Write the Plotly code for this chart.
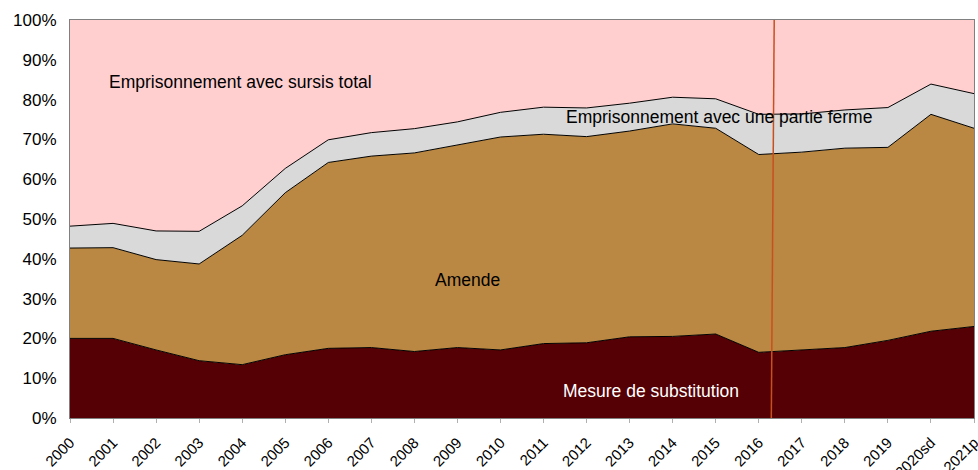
import plotly.graph_objects as go

# Years (2020 semi-definitive, 2021 provisional)
years = ["2000", "2001", "2002", "2003", "2004", "2005", "2006", "2007", "2008",
         "2009", "2010", "2011", "2012", "2013", "2014", "2015", "2016", "2017",
         "2018", "2019", "2020sd", "2021p"]

# Shares of sentences, in % of total
substitution = [20.0, 20.0, 17.1, 14.4, 13.4, 15.9, 17.5, 17.7, 16.7, 17.7, 17.1,
                18.7, 18.9, 20.4, 20.5, 21.1, 16.5, 17.1, 17.7, 19.5, 21.8, 23.0]
amende = [22.7, 22.8, 22.7, 24.3, 32.5, 40.7, 46.7, 48.1, 49.9, 50.9, 53.5,
          52.6, 51.8, 51.7, 53.4, 51.7, 49.7, 49.7, 50.1, 48.5, 54.5, 49.8]
partie_ferme = [5.5, 6.1, 7.2, 8.2, 7.4, 6.1, 5.7, 5.9, 6.1, 5.8, 6.2,
                6.8, 7.2, 7.0, 6.7, 7.4, 10.1, 9.6, 9.6, 10.0, 7.6, 8.7]
sursis_total = [51.8, 51.1, 53.0, 53.1, 46.7, 37.3, 30.1, 28.3, 27.3, 25.6, 23.2,
                21.9, 22.1, 20.9, 19.4, 19.8, 23.7, 23.6, 22.6, 22.0, 16.1, 18.5]

y_ticks = list(range(0, 101, 10))
y_labels = [f"{v}%" for v in y_ticks]

series = [
    ("Mesure de substitution", substitution, "#550004", 1),
    ("Amende", amende, "#BA8842", 1),
    ("Emprisonnement avec une partie ferme", partie_ferme, "#D9D9D9", 1),
    ("Emprisonnement avec sursis total", sursis_total, "#FFCFD0", 0),
]

fig = go.Figure()
for name, vals, color, lw in series:
    fig.add_trace(go.Scatter(
        x=years, y=vals, name=name, mode="lines", stackgroup="one",
        fillcolor=color,
        line=dict(color="black" if lw else color, width=lw),
        hoverinfo="skip",
    ))

family = "Liberation Sans, Arial, sans-serif"

# Area labels
labels = [
    ("Emprisonnement avec sursis total", 3.95, 84.3, "black"),
    ("Emprisonnement avec une partie ferme", 15.07, 75.6, "black"),
    ("Amende", 9.23, 34.7, "black"),
    ("Mesure de substitution", 13.5, 6.7, "white"),
]
for text, x, y, c in labels:
    fig.add_annotation(x=x, y=y, xref="x", yref="y", text=text, showarrow=False,
                       font=dict(family=family, size=17.5, color=c))

# Break in the series between 2016 and 2017
fig.add_shape(type="line", xref="x", yref="y", x0=16.36, x1=16.29, y0=101.6, y1=-1.9,
              line=dict(color="#C8501E", width=1.5), layer="above")

fig.update_layout(
    width=978, height=470,
    margin=dict(l=70, r=4, t=19.5, b=51.5),
    paper_bgcolor="white", plot_bgcolor="white",
    showlegend=False,
    font=dict(family=family, size=17, color="black"),
    xaxis=dict(
        type="category", range=[0, 21], tickangle=-45,
        showgrid=False, zeroline=False,
        showline=True, linecolor="#808080", linewidth=1, mirror=True,
        ticks="outside", ticklen=4, tickcolor="#B0B0B0",
        ticklabelstandoff=5,
        automargin=False,
        tickfont=dict(family=family, size=15, color="black"),
    ),
    yaxis=dict(
        range=[0, 100], tickmode="array", tickvals=y_ticks, ticktext=y_labels,
        showgrid=False, zeroline=False,
        showline=True, linecolor="#808080", linewidth=1, mirror=True,
        ticks="", automargin=False, ticklabelstandoff=9,
        tickfont=dict(family=family, size=17, color="black"),
    ),
)

fig.write_html("out.html")
